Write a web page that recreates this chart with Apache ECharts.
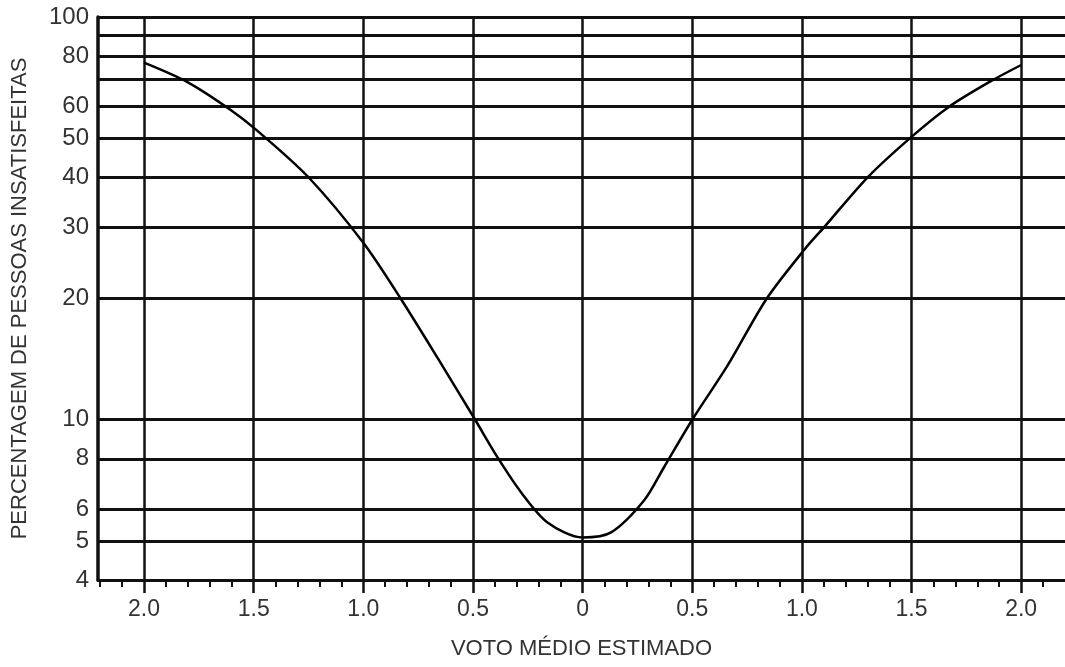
<!DOCTYPE html>
<html>
<head>
<meta charset="utf-8">
<script src="https://cdn.jsdelivr.net/npm/echarts@6/dist/echarts.min.js"></script>
<style>
html,body{margin:0;padding:0;background:#fff;}
#chart{width:1065px;height:667px;}
</style>
</head>
<body>
<div id="chart"></div>
<script>
// Curve: estimated mean vote (PMV) vs % dissatisfied (PPD)
const pmv = [-2.0, -1.8, -1.6, -1.48, -1.25, -1.0, -0.83, -0.66, -0.49, -0.39, -0.28, -0.16, 0.0, 0.13, 0.28, 0.37, 0.5, 0.66, 0.84, 1.02, 1.1, 1.3, 1.5, 1.67, 1.86, 2.0];
const ppd = [77, 68.8, 58.5, 52, 40, 27.5, 20, 14.2, 10, 8.1, 6.6, 5.56, 5.1, 5.25, 6.3, 7.6, 10, 13.6, 20, 26.8, 30, 40, 50.4, 59.8, 69.2, 76];

// Axis ticks / grid values
const xMajor = [-2.0, -1.5, -1.0, -0.5, 0, 0.5, 1.0, 1.5, 2.0];
const xMinor = [-2.2, -2.1, -1.9, -1.8, -1.7, -1.6, -1.4, -1.3, -1.2, -1.1, -0.9, -0.8, -0.7, -0.6, -0.4, -0.3, -0.2, -0.1, 0.1, 0.2, 0.3, 0.4, 0.6, 0.7, 0.8, 0.9, 1.1, 1.2, 1.3, 1.4, 1.6, 1.7, 1.8, 1.9, 2.1];
const yGrid = [4, 5, 6, 8, 10, 20, 30, 40, 50, 60, 70, 80, 90, 100];
const yLabels = [4, 5, 6, 8, 10, 20, 30, 40, 50, 60, 80, 100];

const xTitle = 'VOTO MÉDIO ESTIMADO';
const yTitle = 'PERCENTAGEM DE PESSOAS INSATISFEITAS';

const FONT = '"Liberation Sans", Arial, sans-serif';
const TXT = '#333';
const LINE = '#111';

const chart = echarts.init(document.getElementById('chart'), null, {renderer: 'canvas'});
chart.setOption({
  animation: false,
  backgroundColor: '#fff',
  grid: {left: 98, top: 17, width: 970, height: 563, containLabel: false},
  xAxis: [{
    type: 'value', min: -2.21, max: 2.2,
    name: xTitle, nameLocation: 'middle', nameGap: 58,
    nameTextStyle: {fontFamily: FONT, fontSize: 22, color: TXT},
    axisLine: {show: true, onZero: false, lineStyle: {color: LINE, width: 3}},
    axisTick: {show: true, inside: false, length: 13, customValues: xMajor, lineStyle: {color: LINE, width: 2.5}},
    axisLabel: {customValues: xMajor, margin: 18, fontFamily: FONT, fontSize: 23, color: TXT,
      formatter: v => (Math.abs(v) < 1e-9 ? '0' : Math.abs(v).toFixed(1))},
    splitLine: {show: true, lineStyle: {color: LINE, width: 2.5}}
  }, {
    type: 'value', min: -2.21, max: 2.2, position: 'bottom', offset: 0,
    axisLine: {show: false},
    axisTick: {show: true, inside: false, length: 7, customValues: xMinor, lineStyle: {color: LINE, width: 2}},
    axisLabel: {show: false},
    splitLine: {show: false}
  }],
  yAxis: {
    type: 'log', logBase: 10, min: 4, max: 100,
    name: yTitle, nameLocation: 'middle', nameGap: 67,
    nameTextStyle: {fontFamily: FONT, fontSize: 22, color: TXT},
    axisLine: {show: true, onZero: false, lineStyle: {color: LINE, width: 3.5}},
    axisTick: {show: false},
    axisLabel: {show: false},
    splitLine: {show: false}
  },
  series: [{
    type: 'line',
    xAxisIndex: 0,
    data: pmv.map((x, i) => [x, ppd[i]]),
    smooth: 0.3,
    symbol: 'none',
    lineStyle: {color: '#000', width: 2.5},
    z: 5,
    markLine: {
      silent: true,
      symbol: 'none',
      animation: false,
      lineStyle: {color: LINE, width: 3, type: 'solid'},
      label: {
        show: true, position: 'start', distance: 9,
        fontFamily: FONT, fontSize: 24, color: TXT,
        formatter: p => (yLabels.indexOf(p.value) >= 0 ? String(p.value) : '')
      },
      emphasis: {disabled: true},
      data: yGrid.map(v => ({yAxis: v}))
    }
  }]
});
</script>
</body>
</html>
